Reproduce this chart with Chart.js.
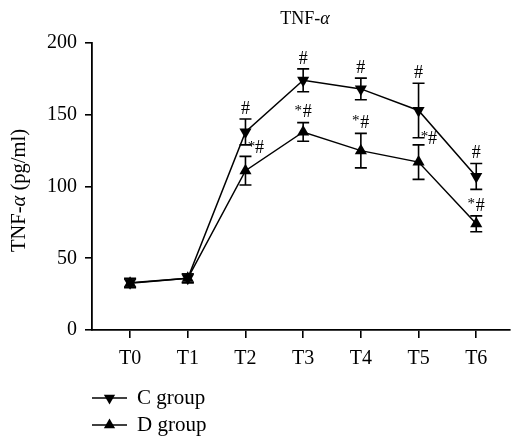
<!DOCTYPE html>
<html>
<head>
<meta charset="utf-8">
<script src="https://cdn.jsdelivr.net/npm/chart.js@4.4.1/dist/chart.umd.min.js"></script>
<style>
  html, body { margin: 0; padding: 0; background: #fff; }
  #wrap { width: 517px; height: 436px; position: relative; }
</style>
</head>
<body>
<div id="wrap"><canvas id="myChart"></canvas></div>
<script>
// values (pg/ml)
const timePoints = ['T0', 'T1', 'T2', 'T3', 'T4', 'T5', 'T6'];
const cGroup = [33, 36, 138, 174, 168, 153, 107];
const cErr   = [3, 3, 9, 8, 7.5, 19, 9];
const dGroup = [32.5, 36, 111, 138, 125, 117, 74];
const dErr   = [3, 3, 10, 6.5, 12, 12, 5.5];
const cSig = ['', '', '#', '#', '#', '#', '#'];
const dSig = ['', '', '*#', '*#', '*#', '*#', '*#'];
const yTicks = [0, 50, 100, 150, 200];

const FONT = '"Liberation Serif", "DejaVu Serif", serif';

function toPoints(arr) {
    return arr.map((v, i) => ({ x: i, y: v }));
}

// draw a string made of runs with different styles (for the italic alpha)
function runsWidth(ctx, runs) {
    let w = 0;
    runs.forEach(r => { ctx.font = r.font; w += ctx.measureText(r.text).width; });
    return w;
}
function drawRuns(ctx, runs, cx, cy) {
    let x = cx - runsWidth(ctx, runs) / 2;
    ctx.textAlign = 'left';
    ctx.textBaseline = 'middle';
    runs.forEach(r => {
        ctx.font = r.font;
        ctx.fillText(r.text, x, cy);
        x += ctx.measureText(r.text).width;
    });
}

const errorBars = {
    id: 'errorBars',
    afterDatasetsDraw(chart) {
        const { ctx, scales: { x, y } } = chart;
        ctx.save();
        ctx.strokeStyle = '#000';
        ctx.lineWidth = 1.6;
        [[cGroup, cErr], [dGroup, dErr]].forEach(([m, e]) => {
            m.forEach((v, i) => {
                const px = x.getPixelForValue(i);
                const top = y.getPixelForValue(v + e[i]);
                const bot = y.getPixelForValue(v - e[i]);
                ctx.beginPath();
                ctx.moveTo(px, top); ctx.lineTo(px, bot);
                ctx.moveTo(px - 6, top); ctx.lineTo(px + 6, top);
                ctx.moveTo(px - 6, bot); ctx.lineTo(px + 6, bot);
                ctx.stroke();
            });
        });
        ctx.restore();
    }
};

const sigMarks = {
    id: 'sigMarks',
    afterDatasetsDraw(chart) {
        const { ctx, scales: { x, y } } = chart;
        ctx.save();
        ctx.fillStyle = '#000';
        ctx.textBaseline = 'middle';
        timePoints.forEach((t, i) => {
            const px = x.getPixelForValue(i);
            const cTop = y.getPixelForValue(cGroup[i] + cErr[i]);
            const cBot = y.getPixelForValue(cGroup[i] - cErr[i]);
            const dTop = y.getPixelForValue(dGroup[i] + dErr[i]);
            if (cSig[i]) {
                ctx.font = '18px ' + FONT;
                ctx.textAlign = 'center';
                ctx.fillText(cSig[i], px, cTop - 10);
            }
            if (dSig[i]) {
                const star = dSig[i].replace('#', '');
                const hash = dSig[i].replace('*', '');
                let sx, hx, hy;
                if (dTop - cBot < 20) {
                    // too close to the C bar: put it on the right
                    sx = px + 6; hx = px + 14; hy = (cBot + dTop) / 2 - 2;
                } else {
                    sx = px - 5; hx = px + 4; hy = dTop - 10;
                }
                ctx.textAlign = 'center';
                ctx.font = '15px ' + FONT;
                ctx.fillText(star, sx, hy - 2);
                ctx.font = '18px ' + FONT;
                ctx.fillText(hash, hx, hy);
            }
        });
        ctx.restore();
    }
};

function drawTriangle(ctx, x, y, r, down) {
    const s = down ? -1 : 1;
    ctx.beginPath();
    ctx.moveTo(x, y - s * r);
    ctx.lineTo(x + r * 0.866, y + s * r / 2);
    ctx.lineTo(x - r * 0.866, y + s * r / 2);
    ctx.closePath();
    ctx.fill();
}

const textParts = {
    id: 'textParts',
    afterDraw(chart) {
        const { ctx, chartArea } = chart;
        ctx.save();
        ctx.fillStyle = '#000';
        // title
        drawRuns(ctx, [
            { text: 'TNF-', font: '18px ' + FONT },
            { text: 'α', font: 'italic 18px ' + FONT }
        ], (chartArea.left + chartArea.right) / 2 + 4, 19);
        // y axis title
        ctx.save();
        ctx.translate(20, (chartArea.top + chartArea.bottom) / 2 + 4);
        ctx.rotate(-Math.PI / 2);
        drawRuns(ctx, [
            { text: 'TNF-', font: '20.5px ' + FONT },
            { text: 'α', font: 'italic 20.5px ' + FONT },
            { text: ' (pg/ml)', font: '20.5px ' + FONT }
        ], 0, 0);
        ctx.restore();
        // legend
        const rows = [['C group', true], ['D group', false]];
        rows.forEach(([label, down], k) => {
            const ly = chartArea.bottom + 68 + k * 27;
            const lx = chartArea.left;
            ctx.strokeStyle = '#000';
            ctx.lineWidth = 1.5;
            ctx.beginPath();
            ctx.moveTo(lx, ly); ctx.lineTo(lx + 35, ly);
            ctx.stroke();
            drawTriangle(ctx, lx + 17.5, ly, 6.5, down);
            ctx.font = '21px ' + FONT;
            ctx.textAlign = 'left';
            ctx.textBaseline = 'middle';
            ctx.fillText(label, lx + 45, ly);
        });
        ctx.restore();
    }
};

const ctx = document.getElementById('myChart').getContext('2d');

const config = {
    type: 'line',
    data: {
        datasets: [{
            label: 'C group',
            data: toPoints(cGroup),
            borderColor: '#000',
            backgroundColor: '#000',
            borderWidth: 1.5,
            pointStyle: 'triangle',
            rotation: 180,
            pointRadius: 7,
            pointBorderWidth: 0,
            tension: 0
        }, {
            label: 'D group',
            data: toPoints(dGroup),
            borderColor: '#000',
            backgroundColor: '#000',
            borderWidth: 1.5,
            pointStyle: 'triangle',
            pointRadius: 7,
            pointBorderWidth: 0,
            tension: 0
        }]
    },
    options: {
        responsive: true,
        maintainAspectRatio: false,
        animation: false,
        layout: { padding: { top: 43, right: 0, left: 0, bottom: 0 } },
        plugins: {
            legend: { display: false },
            tooltip: { enabled: false }
        },
        scales: {
            x: {
                type: 'linear',
                min: -0.66,
                max: 6.585,
                afterBuildTicks: s => { s.ticks = timePoints.map((t, i) => ({ value: i })); },
                afterFit: s => { s.height = 106; },
                ticks: {
                    callback: v => timePoints[v],
                    color: '#000',
                    font: { family: FONT, size: 20 },
                    padding: 9,
                    maxRotation: 0
                },
                grid: { drawOnChartArea: false, color: '#000', tickLength: 8, lineWidth: 1.6 },
                border: { color: '#000', width: 1.8 }
            },
            y: {
                min: 0,
                max: 200,
                afterBuildTicks: s => { s.ticks = yTicks.map(v => ({ value: v })); },
                afterFit: s => { s.width = 92; },
                ticks: {
                    color: '#000',
                    font: { family: FONT, size: 20 },
                    padding: 8
                },
                grid: { drawOnChartArea: false, color: '#000', tickLength: 7, lineWidth: 1.6 },
                border: { color: '#000', width: 1.8 }
            }
        }
    },
    plugins: [errorBars, sigMarks, textParts]
};

const myChart = new Chart(ctx, config);
</script>
</body>
</html>
